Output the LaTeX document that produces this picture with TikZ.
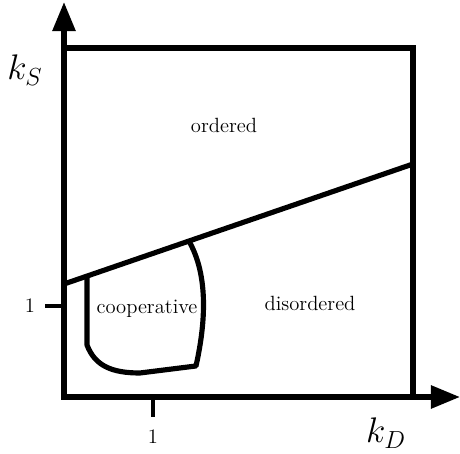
\documentclass[tikz,border=0pt]{standalone}
\usetikzlibrary{arrows.meta}

\tikzset{
  thickline/.style={line width=3pt},
  axisarrow/.style={thickline, -{Triangle[length=17pt, width=13pt]}},
  region/.style={font=\large}
}

\begin{document}
\begin{tikzpicture}[x=0.0205cm, y=-0.0205cm]
    % pixel-like grid: x=0..460, y=0..454 (y points down)
    \useasboundingbox (0,0) rectangle (460,454);

    % ===== axes and frame =====
    \coordinate (O)   at (64,397);
    \coordinate (ytop) at (64,2);
    \coordinate (xend) at (460,397);
    \draw[thickline] (64,48) -- (413,48) -- (413,397);
    \draw[axisarrow] (O) -- (ytop);
    \draw[axisarrow] ([xshift=-1.5pt]O) -- (xend);

    % axis labels
    \node[font=\huge] (ks) at (25,70)  {$k_S$};
    \node[font=\huge] (kd) at (386,433) {$k_D$};

    % ticks at 1
    \coordinate (t1x) at (153,397);
    \coordinate (t1y) at (64,306);
    \draw[line width=2pt] (t1x) -- ++(0,20);
    \draw[line width=2pt] (t1y) -- ++(-19,0);
    \node[font=\large] (onex) at (153,437) {1};
    \node[font=\large] (oney) at (30,306)  {1};

    % ===== order / disorder boundary =====
    \coordinate (bl) at (64,284);
    \coordinate (br) at (413,164);
    \draw[thickline] (bl) -- (br);

    % cooperative pocket under the line
    \coordinate (cl) at (87,277);
    \coordinate (cr) at (190,243);
    \draw[thickline, line join=round]
      (cl) -- (87,345) .. controls (95,366) and (112,373) .. (140,373)
      -- (196,366) .. controls (204,330) and (210,280) .. (cr);

    % ===== region labels =====
    \node[region] (ord)  at (224,125) {ordered};
    \node[region] (dis)  at (310,303) {disordered};
    \node[region] (coop) at (147,309) {cooperative};

  \end{tikzpicture}
\end{document}
